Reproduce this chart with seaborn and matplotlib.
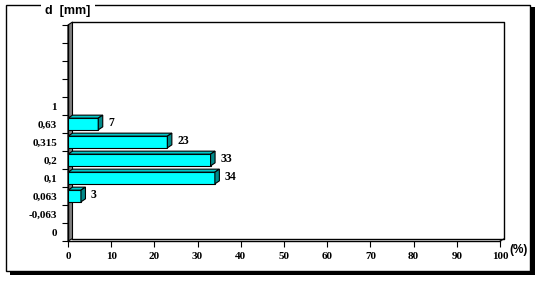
import matplotlib
matplotlib.use("Agg")
import matplotlib.pyplot as plt
import seaborn as sns
import pandas as pd
import numpy as np
from matplotlib.patches import Polygon, Rectangle
from matplotlib.lines import Line2D

# ---- data ----
categories = ["1", "0,63", "0,315", "0,2", "0,1", "0,063", "-0,063", "0"]  # top -> bottom
values = [0, 7, 23, 33, 34, 3, 0, 0]
x_ticks = [0, 10, 20, 30, 40, 50, 60, 70, 80, 90, 100]
n_empty_slots = 4

df = pd.DataFrame({"d": categories, "pct": values})

sns.set_theme(style="white")
plt.rcParams["font.family"] = ["Liberation Serif", "DejaVu Serif"]
plt.rcParams["text.color"] = "black"
plt.rcParams["xtick.color"] = "black"
plt.rcParams["ytick.color"] = "black"

W, H = 542, 287
fig = plt.figure(figsize=(W / 100, H / 100), dpi=100)
fig.patch.set_facecolor("white")

# outer frame with shadow
def fx(px): return px / W
def fy(py): return 1 - py / H
fig.patches.append(Rectangle((fx(10), fy(274.5)), fx(525), (274.5 - 7) / H,
                             transform=fig.transFigure, facecolor="black",
                             edgecolor="none", zorder=0))
fig.patches.append(Rectangle((fx(6), fy(271)), fx(524), (271 - 4.5) / H,
                             transform=fig.transFigure, facecolor="white",
                             edgecolor="black", linewidth=1.0, zorder=0.5))

L, R, T, B = 68, 500, 25, 241
ax = fig.add_axes([fx(L), fy(B), (R - L) / W, (B - T) / H])
ax.set_zorder(5)
ax.set_facecolor("none")

sns.barplot(data=df, x="pct", y="d", order=categories, orient="h",
            color="#00FFFF", saturation=1, width=0.65,
            edgecolor="black", linewidth=0.8, ax=ax, zorder=3)

ax.set_xlim(0, 100)
ax.set_ylim(len(categories) - 0.5, -0.5 - n_empty_slots)
ax.set_xticks(x_ticks)
ax.set_xticklabels([str(t) for t in x_ticks])
ax.set_xlabel("")
ax.set_ylabel("")

# y: labels at centres, tick marks at slot boundaries
ax.set_yticks(range(len(categories)))
ax.set_yticklabels(categories)
ax.set_yticks(np.arange(-0.5 - n_empty_slots, len(categories), 1.0), minor=True)
ax.tick_params(axis="y", which="major", length=0, pad=8, labelsize=8)
ax.tick_params(axis="y", which="minor", length=4, width=0.8, color="black",
               direction="out", left=True)
ax.tick_params(axis="x", which="major", length=4, width=0.8, color="black",
               direction="out", bottom=True, pad=4, labelsize=8)
for lab in ax.get_xticklabels() + ax.get_yticklabels():
    lab.set_fontweight("bold")

for s in ["top", "right"]:
    ax.spines[s].set_visible(False)
for s in ["left", "bottom"]:
    ax.spines[s].set_color("black")
    ax.spines[s].set_linewidth(1.0)

fig.canvas.draw()
to_data = ax.transData.inverted()
dxp, dyp = 4.5, 3.0  # depth offset in pixels (right, up)

def disp2data(pts):
    return to_data.transform(np.array(pts))

# back wall frame and left wall
x0d, y0d = ax.transData.transform((0, len(categories) - 0.5))
x1d, y1d = ax.transData.transform((100, -0.5 - n_empty_slots))
back = disp2data([(x0d + dxp, y0d + dyp * 0.8), (x1d + dxp, y0d + dyp * 0.8),
                  (x1d + dxp, y1d + dyp), (x0d + dxp, y1d + dyp)])
ax.add_line(Line2D(back[:, 0], back[:, 1], color="black", lw=1.0, zorder=1,
                   clip_on=False))
ax.add_line(Line2D([back[1, 0], 100], [back[1, 1], len(categories) - 0.5],
                   color="black", lw=0.8, zorder=1, clip_on=False))
wall = disp2data([(x0d, y0d), (x0d, y1d), (x0d + dxp, y1d + dyp), (x0d + dxp, y0d + dyp * 0.8)])
ax.add_patch(Polygon(wall, closed=True, facecolor="#808080", edgecolor="black",
                     lw=0.8, zorder=2, clip_on=False))

# 3D faces for bars
for p in list(ax.patches):
    if not isinstance(p, Rectangle) or p.get_width() <= 0:
        continue
    bx, by = p.get_x(), p.get_y()
    bw, bh = p.get_width(), p.get_height()
    (a_x, a_y) = ax.transData.transform((bx, by + bh))      # bottom-left (display)
    (c_x, c_y) = ax.transData.transform((bx + bw, by))      # top-right (display)
    top = disp2data([(a_x, c_y), (c_x, c_y), (c_x + dxp, c_y + dyp), (a_x + dxp, c_y + dyp)])
    side = disp2data([(c_x, a_y), (c_x, c_y), (c_x + dxp, c_y + dyp), (c_x + dxp, a_y + dyp)])
    ax.add_patch(Polygon(top, closed=True, facecolor="#00C8C8", edgecolor="black",
                         lw=0.8, zorder=3, clip_on=False))
    ax.add_patch(Polygon(side, closed=True, facecolor="#008A8A", edgecolor="black",
                         lw=0.8, zorder=3, clip_on=False))

# value labels
for cat, v in zip(categories, values):
    if v > 0:
        ax.annotate(str(v), xy=(v, categories.index(cat)), xytext=(10, 1),
                    textcoords="offset pixels", ha="left", va="center",
                    fontsize=8.5, fontweight="bold", zorder=5, color="black")

# title and unit
fig.text(fx(45), fy(11), "d  [mm]", family=["Liberation Sans", "DejaVu Sans"],
         fontsize=9, fontweight="bold", ha="left", va="center", color="black",
         bbox=dict(facecolor="white", edgecolor="none", pad=3))
fig.text(fx(509), fy(250), "(%)", family=["Liberation Sans", "DejaVu Sans"],
         fontsize=8.5, fontweight="bold", ha="left", va="center", color="black",
         zorder=10)

fig.savefig("out.png", dpi=100, facecolor="white")
